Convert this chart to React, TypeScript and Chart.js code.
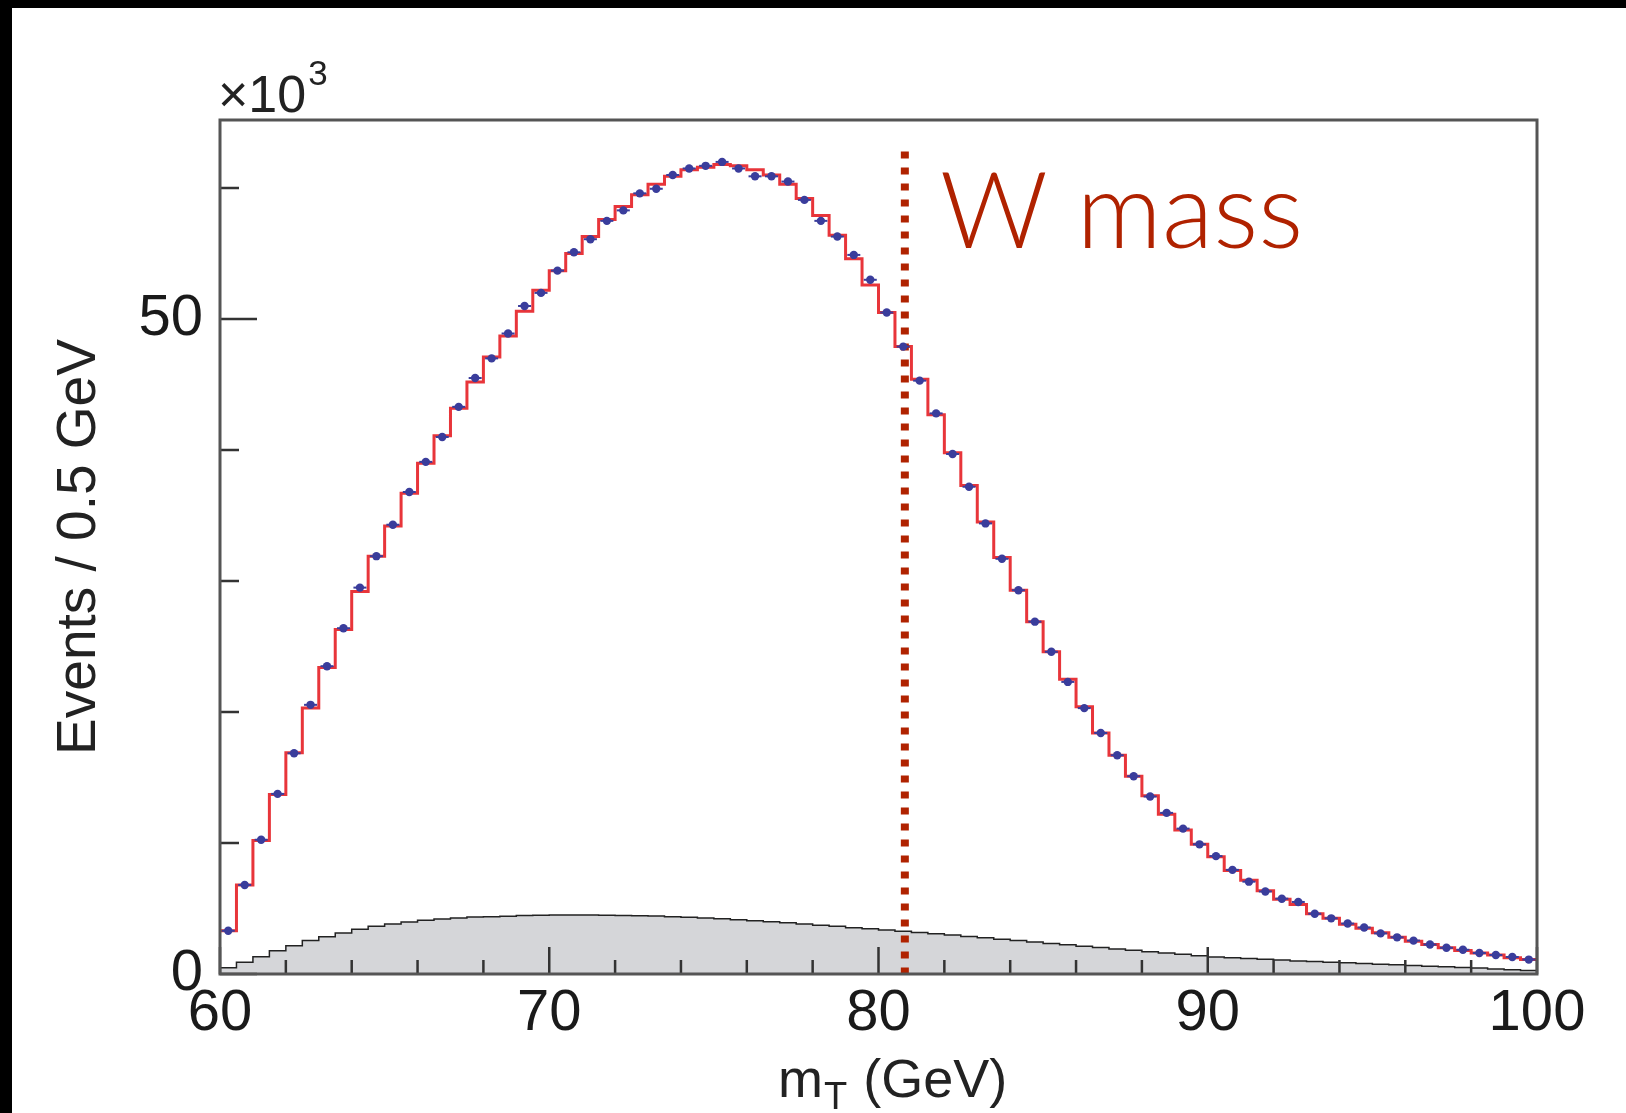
import React, { useEffect, useRef } from 'react';
import { Chart, registerables } from 'chart.js';

Chart.register(...registerables);

// ---- data (thousands of events per 0.5 GeV bin, 60..100 GeV) ----
const X_MIN = 60;
const X_MAX = 100;
const BIN_WIDTH = 0.5;
const Y_MAX = 65.2;

// MC prediction (red step histogram)
const MC = [
  3.3, 6.8, 10.2, 13.7, 16.9, 20.3, 23.4, 26.3, 29.2, 31.9,
  34.2, 36.7, 39.0, 41.1, 43.2, 45.2, 47.1, 48.7, 50.6, 52.2,
  53.7, 55.0, 56.3, 57.6, 58.6, 59.5, 60.3, 60.9, 61.4, 61.6,
  61.8, 61.7, 61.4, 61.0, 60.3, 59.2, 57.9, 56.4, 54.6, 52.6,
  50.5, 47.9, 45.4, 42.7, 39.8, 37.3, 34.5, 31.8, 29.3, 26.9,
  24.6, 22.5, 20.4, 18.4, 16.7, 15.1, 13.6, 12.2, 11.0, 9.9,
  8.95, 7.9, 7.15, 6.35, 5.7, 5.3, 4.6, 4.25, 3.8, 3.5,
  3.15, 2.8, 2.5, 2.25, 2.0, 1.8, 1.6, 1.45, 1.25, 1.1,
];

// Observed data (blue points)
const DATA = [
  3.3, 6.8, 10.25, 13.75, 16.85, 20.55, 23.5, 26.4, 29.5, 31.9,
  34.3, 36.8, 39.1, 41.0, 43.3, 45.5, 47.0, 48.9, 51.0, 52.0,
  53.7, 55.1, 56.1, 57.5, 58.3, 59.6, 59.95, 61.0, 61.5, 61.7,
  62.0, 61.5, 60.9, 60.9, 60.5, 59.1, 57.5, 56.3, 54.9, 53.0,
  50.5, 47.9, 45.3, 42.8, 39.7, 37.2, 34.4, 31.7, 29.3, 26.9,
  24.6, 22.3, 20.3, 18.4, 16.7, 15.1, 13.55, 12.3, 11.1, 9.9,
  9.0, 7.95, 7.05, 6.3, 5.75, 5.5, 4.6, 4.25, 3.85, 3.55,
  3.1, 2.8, 2.55, 2.25, 2.0, 1.85, 1.6, 1.45, 1.3, 1.1,
];

// Background (grey filled histogram)
const BKG = [
  0.48, 0.89, 1.32, 1.78, 2.16, 2.55, 2.85, 3.13, 3.41, 3.64,
  3.82, 3.97, 4.10, 4.20, 4.28, 4.35, 4.38, 4.40, 4.46, 4.48,
  4.50, 4.50, 4.50, 4.49, 4.47, 4.45, 4.42, 4.38, 4.33, 4.27,
  4.21, 4.14, 4.07, 3.99, 3.91, 3.82, 3.73, 3.64, 3.54, 3.45,
  3.36, 3.27, 3.17, 3.07, 2.97, 2.86, 2.76, 2.65, 2.55, 2.44,
  2.33, 2.23, 2.12, 2.02, 1.91, 1.81, 1.70, 1.60, 1.50, 1.40,
  1.30, 1.24, 1.18, 1.12, 1.06, 1.00, 0.95, 0.90, 0.85, 0.80,
  0.75, 0.70, 0.65, 0.60, 0.55, 0.50, 0.45, 0.38, 0.32, 0.27,
];

const X_MAJOR = [60, 70, 80, 90, 100];
const X_MINOR = [62, 64, 66, 68, 72, 74, 76, 78, 82, 84, 86, 88, 92, 94, 96, 98];
const X_TICK_LABELS = [60, 70, 80, 90, 100];
const Y_TICK_LABELS = [0, 50];
const Y_MINOR = [10, 20, 30, 40, 60];

const W_MASS = 80.8;
const W_LINE_Y = [62.8, 0];

const W_LABEL = 'W mass';
const Y_TITLE = 'Events / 0.5 GeV';

// ---- helpers ----
// points at bin edges; drawn with stepped 'before' (horizontal at previous value, then vertical)
const stepPoints = (vals: number[]) => {
  const pts = [{ x: X_MIN, y: vals[0] }];
  vals.forEach((v, i) => pts.push({ x: X_MIN + (i + 1) * BIN_WIDTH, y: vals[Math.min(i + 1, vals.length - 1)] }));
  return pts;
};
const centerPoints = (vals: number[]) =>
  vals.map((v, i) => ({ x: X_MIN + (i + 0.5) * BIN_WIDTH, y: v }));

const FONT = '"Liberation Sans", Arial, Helvetica, sans-serif';

const decorPlugin = {
  id: 'decor',
  afterDatasetsDraw(chart: any) {
    const { ctx, chartArea: a, scales } = chart;
    const x = scales.x;
    const y = scales.y;
    ctx.save();
    // inward tick marks
    ctx.strokeStyle = '#333';
    ctx.lineWidth = 2.5;
    ctx.beginPath();
    for (const v of X_MAJOR) {
      const px = x.getPixelForValue(v);
      ctx.moveTo(px, a.bottom);
      ctx.lineTo(px, a.bottom - 27);
    }
    for (const v of X_MINOR) {
      const px = x.getPixelForValue(v);
      ctx.moveTo(px, a.bottom);
      ctx.lineTo(px, a.bottom - 14);
    }
    for (const v of Y_TICK_LABELS) {
      const py = y.getPixelForValue(v);
      ctx.moveTo(a.left, py);
      ctx.lineTo(a.left + 37, py);
    }
    for (const v of Y_MINOR) {
      const py = y.getPixelForValue(v);
      ctx.moveTo(a.left, py);
      ctx.lineTo(a.left + 19, py);
    }
    ctx.stroke();
    // frame
    ctx.strokeStyle = '#555';
    ctx.lineWidth = 3;
    ctx.strokeRect(a.left, a.top, a.right - a.left, a.bottom - a.top);
    ctx.restore();
  },
  afterDraw(chart: any) {
    const { ctx } = chart;
    ctx.save();
    ctx.textAlign = 'left';
    ctx.textBaseline = 'alphabetic';
    // W mass label
    ctx.fillStyle = '#b02200';
    ctx.font = '300 106px Lato, "Open Sans", sans-serif';
    ctx.fillText(W_LABEL, 928, 240);
    // x10^3
    ctx.fillStyle = '#222';
    ctx.font = '52px ' + FONT;
    ctx.fillText('\u00d710', 206, 104);
    const w10 = ctx.measureText('\u00d710').width;
    ctx.font = '35px ' + FONT;
    ctx.fillText('3', 206 + w10 + 2, 77);
    // x-axis title m_T (GeV)
    const bx = 766;
    const by = 1089;
    ctx.font = '54px ' + FONT;
    ctx.fillText('m', bx, by);
    const wm = ctx.measureText('m').width;
    ctx.font = '38px ' + FONT;
    ctx.fillText('T', bx + wm + 1, by + 12);
    const wt = ctx.measureText('T').width;
    ctx.font = '54px ' + FONT;
    ctx.fillText(' (GeV)', bx + wm + wt + 2, by);
    ctx.restore();
  },
};

export default function App() {
  const ref = useRef<HTMLCanvasElement | null>(null);

  useEffect(() => {
    const canvas = ref.current;
    if (!canvas) return;
    const chart = new Chart(canvas, {
      type: 'line',
      data: {
        datasets: [
          {
            type: 'scatter',
            label: 'data-err',
            data: centerPoints(DATA),
            pointStyle: 'line',
            pointRadius: 6.5,
            borderColor: '#3a3d9c',
            backgroundColor: '#3a3d9c',
            pointBorderWidth: 2,
            showLine: false,
          } as any,
          {
            type: 'scatter',
            label: 'data',
            data: centerPoints(DATA),
            pointStyle: 'circle',
            pointRadius: 4.2,
            borderColor: '#3a3d9c',
            backgroundColor: '#3a3d9c',
            pointBorderWidth: 0,
            showLine: false,
          } as any,
          {
            label: 'W mass',
            data: W_LINE_Y.map((v) => ({ x: W_MASS, y: v })),
            borderColor: '#b02200',
            borderWidth: 8,
            borderDash: [7, 9],
            pointRadius: 0,
            fill: false,
          },
          {
            label: 'MC',
            data: stepPoints(MC),
            stepped: 'before',
            borderColor: '#e8353a',
            borderWidth: 3,
            borderJoinStyle: 'miter',
            pointRadius: 0,
            fill: false,
          } as any,
          {
            label: 'Background',
            data: stepPoints(BKG),
            stepped: 'before',
            borderColor: '#222',
            borderWidth: 1.5,
            backgroundColor: '#d5d6d9',
            fill: 'origin',
            pointRadius: 0,
          } as any,
        ],
      },
      options: {
        animation: false,
        responsive: false,
        maintainAspectRatio: false,
        events: [],
        layout: { padding: { left: 0, top: 112, right: 89, bottom: 0 } },
        plugins: {
          legend: { display: false },
          tooltip: { enabled: false },
        },
        scales: {
          x: {
            type: 'linear',
            min: X_MIN,
            max: X_MAX,
            grid: { display: false, drawTicks: false },
            border: { display: false },
            ticks: {
              stepSize: 2,
              autoSkip: false,
              maxRotation: 0,
              minRotation: 0,
              padding: 5,
              color: '#1a1a1a',
              font: { family: FONT, size: 58 },
              callback: (v: any) => (X_TICK_LABELS.some((t) => Math.abs(t - v) < 1e-6) ? String(v) : ''),
            },
            afterFit: (s: any) => {
              s.height = 139;
            },
          },
          y: {
            type: 'linear',
            min: 0,
            max: Y_MAX,
            grid: { display: false, drawTicks: false },
            border: { display: false },
            ticks: {
              stepSize: 10,
              autoSkip: false,
              padding: 17,
              color: '#1a1a1a',
              font: { family: FONT, size: 58 },
              callback: (v: any) => (Y_TICK_LABELS.some((t) => Math.abs(t - v) < 1e-6) ? String(Math.round(v)) : ''),
            },
            title: {
              display: true,
              text: Y_TITLE,
              color: '#222',
              font: { family: FONT, size: 55 },
              padding: { top: 35, bottom: 0 },
            },
            afterFit: (s: any) => {
              s.width = 208;
            },
          },
        },
      },
      plugins: [decorPlugin],
    } as any);
    return () => chart.destroy();
  }, []);

  return (
    <div
      style={{
        position: 'fixed',
        left: 0,
        top: 0,
        width: 1626,
        height: 1113,
        background: '#000',
        overflow: 'hidden',
      }}
    >
      <canvas
        ref={ref}
        width={1614}
        height={1105}
        style={{ position: 'absolute', left: 12, top: 8, width: 1614, height: 1105, background: '#fff' }}
      />
    </div>
  );
}
